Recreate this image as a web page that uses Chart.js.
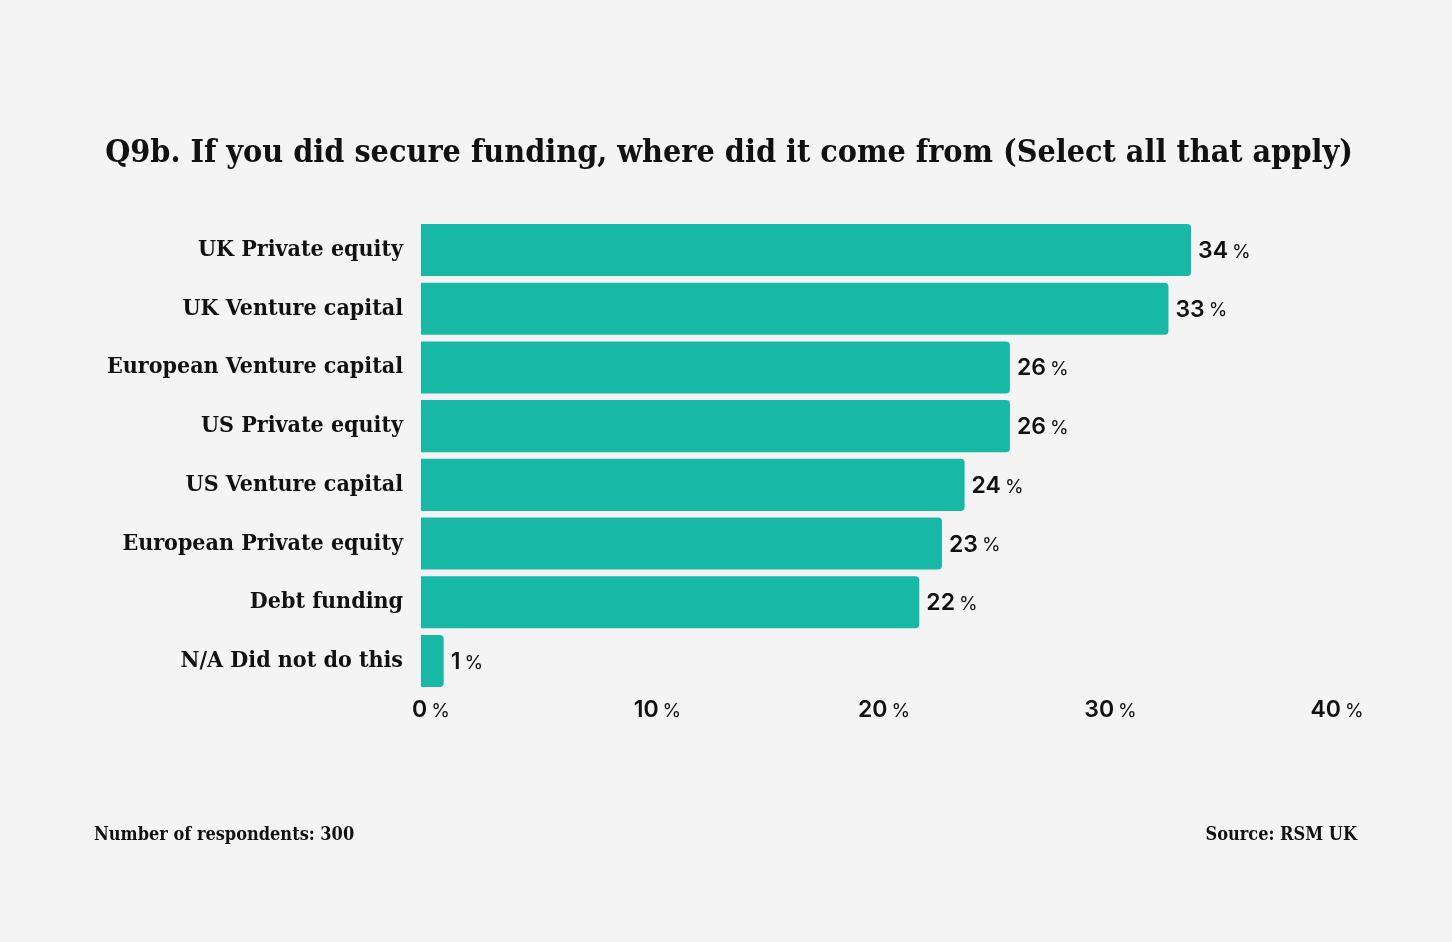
<!DOCTYPE html>
<html>
<head>
<meta charset="utf-8">
<script src="https://cdn.jsdelivr.net/npm/chart.js@4.4.1/dist/chart.umd.min.js"></script>
<style>
  body { margin: 0; background: #f4f4f4; }
  #wrap { position: relative; width: 1452px; height: 942px; }
</style>
</head>
<body>
<div id="wrap"><canvas id="grafico" width="1452" height="942"></canvas></div>
<script>
const categorias = ['UK Private equity', 'UK Venture capital', 'European Venture capital', 'US Private equity',
  'US Venture capital', 'European Private equity', 'Debt funding', 'N/A Did not do this'];
const valores = [34, 33, 26, 26, 24, 23, 22, 1];
const ticksX = [0, 10, 20, 30, 40];

const titulo = 'Q9b. If you did secure funding, where did it come from (Select all that apply)';
const rodapeEsq = 'Number of respondents: 300';
const rodapeDir = 'Source: RSM UK';

const serif = '"DejaVu Serif Condensed", "DejaVu Serif", serif';
const sans = 'Inter, "Noto Sans", sans-serif';

// numero em negrito + "%" menor
function numeroPct(ctx, num, x, y, align) {
  ctx.font = '600 23px ' + sans;
  const w1 = ctx.measureText(num).width;
  ctx.font = '400 19px ' + sans;
  const w2 = ctx.measureText('%').width;
  const gap = 4;
  let start = x;
  if (align === 'center') start = x - (w1 + gap + w2) / 2;
  ctx.textAlign = 'left';
  ctx.textBaseline = 'middle';
  ctx.fillStyle = '#111';
  ctx.font = '600 23px ' + sans;
  ctx.fillText(num, start, y);
  ctx.font = '400 19px ' + sans;
  ctx.fillText('%', start + w1 + gap, y + 1);
}

const textosExtras = {
  id: 'textosExtras',
  afterDraw(chart) {
    const ctx = chart.ctx;
    ctx.save();
    ctx.fillStyle = '#111';
    ctx.textBaseline = 'middle';
    ctx.textAlign = 'center';
    ctx.font = 'bold 32px ' + serif;
    ctx.fillText(titulo, 729, 154);

    ctx.font = 'bold 18px ' + serif;
    ctx.textAlign = 'left';
    ctx.fillText(rodapeEsq, 94, 835);
    ctx.textAlign = 'right';
    ctx.fillText(rodapeDir, 1357, 835);

    // rotulos das barras
    const meta = chart.getDatasetMeta(0);
    meta.data.forEach((bar, i) => {
      numeroPct(ctx, String(valores[i]), bar.x + 7, bar.y + 1, 'left');
    });

    // eixo x
    const escala = chart.scales.x;
    ticksX.forEach(t => {
      numeroPct(ctx, String(t), escala.getPixelForValue(t) + 10, 710, 'center');
    });
    ctx.restore();
  }
};

new Chart(document.getElementById('grafico'), {
  type: 'bar',
  data: {
    labels: categorias,
    datasets: [{
      data: valores,
      backgroundColor: '#17b8a6',
      borderRadius: 4,
      borderSkipped: 'start',
      barPercentage: 0.886,
      categoryPercentage: 1
    }]
  },
  options: {
    indexAxis: 'y',
    responsive: false,
    animation: false,
    layout: { padding: { left: 0, right: 125, top: 220.6, bottom: 251.6 } },
    plugins: { legend: { display: false }, tooltip: { enabled: false } },
    scales: {
      x: {
        min: 0, max: 40,
        grid: { display: false, drawTicks: false },
        border: { display: false },
        ticks: { display: false },
        afterFit(s) { s.height = 0; }
      },
      y: {
        grid: { display: false, drawTicks: false },
        border: { display: false },
        ticks: { color: '#111', padding: 18, font: { family: serif, weight: 'bold', size: 23 } },
        afterFit(s) { s.width = 421; }
      }
    }
  },
  plugins: [textosExtras]
});
</script>
</body>
</html>
